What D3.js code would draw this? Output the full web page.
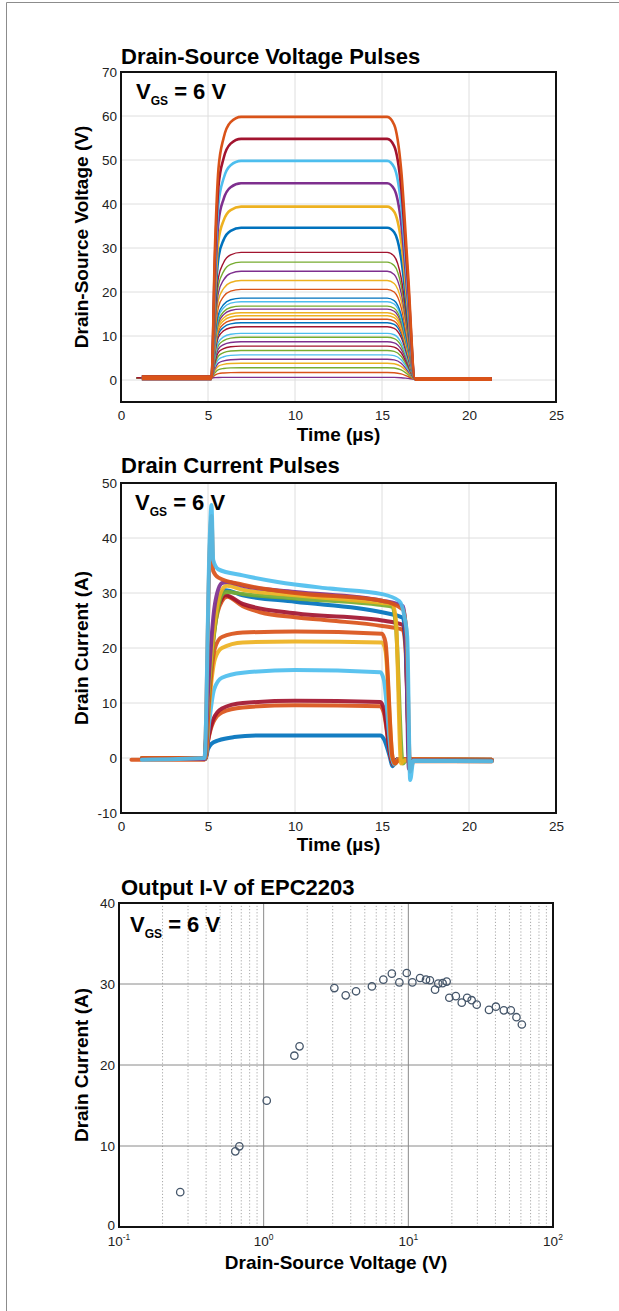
<!DOCTYPE html>
<html>
<head>
<meta charset="utf-8">
<script src="https://cdn.jsdelivr.net/npm/d3@7"></script>
<style>
  body { margin: 0; background: #fff; }
  text { font-family: "Liberation Sans", Arial, Helvetica, sans-serif; }
</style>
</head>
<body>
<svg id="fig"></svg>
<script>
// ---- data ----
// top panel: plateau level of every V_DS pulse (V), bottom trace first
var vdsLevels = [0.6, 1.7, 2.8, 3.8, 4.7, 5.7, 6.7, 7.7, 8.7, 9.7, 10.6, 12.1, 13.0, 13.8, 14.6, 15.3,
                 16.1, 16.8, 17.8, 18.6, 20.6, 22.6, 24.7, 26.8, 29.0, 34.6, 39.4, 44.7, 49.8, 54.8, 59.8];
// pulse outline (time in us, fraction of plateau)
var pulseTimes = [5.2, 5.4, 5.6, 5.9, 6.3, 6.9, 15.3, 15.7, 16.1, 16.5, 16.9];
var pulseShape = [0, 0.5, 0.8, 0.92, 0.98, 1, 1, 0.97, 0.8, 0.4, 0];
var vdsPre = [1.2, 0.5];     // start time, baseline level before the pulse
var vdsPost = [21.3, 0.2];   // end time, baseline level after the pulse

// middle panel: drain current traces [t (us), I (A)]
var idTraces = [
  [[1.2,-0.2],[4.85,-0.2],[5.0,1.6],[5.2,2.6],[5.6,3.2],[6.5,3.8],[8,4.1],[14.9,4.1],[15.1,3.5],[15.45,0.2],[15.6,-1.5],[15.85,-0.3],[21.3,-0.4]],
  [[1.2,-0.1],[4.85,-0.1],[5.0,3],[5.3,6.5],[5.8,8.3],[7,9.2],[10,9.6],[14.9,9.4],[15.1,8.3],[15.5,0.2],[15.65,-1.2],[15.9,-0.2],[21.3,-0.3]],
  [[1.2,-0.1],[4.85,-0.1],[5.0,3.2],[5.3,7],[5.8,9],[7,10],[10,10.4],[14.9,10.2],[15.1,9],[15.5,0.2],[15.65,-1.2],[15.9,-0.2],[21.3,-0.3]],
  [[1.2,0],[4.85,0],[5.05,6],[5.35,12.5],[5.8,14.6],[7,15.5],[10,16],[14.9,15.6],[15.1,14.3],[15.55,0.2],[15.7,-1.2],[15.95,-0.2],[21.3,-0.3]],
  [[1.2,0],[4.85,0],[5.05,9],[5.4,18],[5.8,20],[7,21],[10,21.2],[15,21],[15.2,19.5],[15.6,0.2],[15.75,-1],[16,-0.2],[21.3,-0.3]],
  [[1.2,0],[4.85,0],[5.05,10],[5.4,20],[5.8,22],[7,22.8],[10,23],[15,22.6],[15.2,21],[15.6,0.2],[15.75,-1],[16,-0.2],[21.3,-0.3]],
  [[0.6,-0.3],[4.8,-0.3],[5.0,10],[5.4,24],[5.8,28.5],[6.1,29.3],[7,27.6],[8,26.5],[10,25.6],[12,25],[15,24],[16.2,23.3],[16.35,20],[16.6,-1],[16.8,-0.6],[21.3,-0.6]],
  [[1.2,-0.2],[4.8,-0.2],[5.0,11],[5.4,25],[5.8,29],[6.0,29.6],[7,28],[10,26.3],[15,25],[16.2,24.2],[16.35,21],[16.6,-1.5],[16.8,-0.4],[21.3,-0.5]],
  [[1.2,-0.2],[4.8,-0.2],[5.0,12],[5.4,26],[5.8,30],[6.0,30.5],[7,29.6],[10,28.4],[15,26.5],[16.2,25.5],[16.35,22],[16.6,-1.5],[16.8,-0.4],[21.3,-0.5]],
  [[1.2,-0.2],[4.8,-0.2],[5.0,10],[5.5,26],[5.9,30],[6.1,30.2],[7,29.8],[10,29],[15,27.8],[15.6,27.5],[15.8,24],[16.2,-1],[16.4,-0.4],[21.3,-0.5]],
  [[1.2,-0.2],[4.8,-0.2],[5.0,11],[5.5,27],[5.9,31],[6.1,31.3],[7,30.6],[10,29.6],[15,28.2],[15.6,28],[15.8,25],[16.1,-1],[16.3,-0.4],[21.3,-0.5]],
  [[1.2,-0.2],[4.8,-0.2],[5.0,12],[5.4,28],[5.8,31.8],[6.1,32],[7,31.3],[10,30.2],[15,28.6],[16.2,27.6],[16.35,24],[16.55,-2],[16.75,-0.4],[21.3,-0.5]],
  [[1.2,-0.2],[4.8,0],[5.1,38],[5.2,44],[5.3,34],[5.6,32.8],[7,31.5],[10,30],[15,28.6],[16.2,27],[16.4,23],[16.62,-2.5],[16.8,-0.5],[21.3,-0.6]],
  [[1.2,-0.3],[4.8,0],[5.1,40],[5.2,46],[5.3,36],[5.6,34.3],[7,33.2],[9,32],[12,30.8],[15,29.8],[16,28.5],[16.3,25.5],[16.45,22],[16.62,-4],[16.8,-0.5],[21.3,-0.6]]
];

// bottom panel: output I-V points
var ivVds = [0.265, 0.637, 0.679, 1.05, 1.63, 1.77, 3.08, 3.69, 4.35, 5.6, 6.72, 7.69, 8.67, 9.75, 10.66,
             12.05, 13.25, 14.1, 15.3, 16.1, 17.26, 18.4, 19.2, 21.3, 23.4, 25.5, 27.4, 29.7, 36.1, 40.3,
             45.7, 51.1, 55.9, 60.9];
var ivId = [4.3, 9.34, 9.96, 15.6, 21.15, 22.3, 29.5, 28.6, 29.1, 29.7, 30.54, 31.28, 30.2, 31.36, 30.2,
            30.74, 30.54, 30.46, 29.3, 30.05, 30.1, 30.3, 28.3, 28.5, 27.7, 28.3, 28.0, 27.45, 26.8, 27.2,
            26.75, 26.75, 25.9, 25.0];

var timeTicks = [0, 5, 10, 15, 20, 25];
var vdsTicks = [0, 10, 20, 30, 40, 50, 60, 70];
var idTicks = [-10, 0, 10, 20, 30, 40, 50];
var ivTicks = [0, 10, 20, 30, 40];
var ivDecades = [-1, 0, 1, 2];

// ---- colours ----
var C = { blue: "#0072BD", orange: "#D95319", yellow: "#EDB120", purple: "#7E2F8E",
          green: "#77AC30", cyan: "#4DBEEE", dred: "#A2142F" };
var vdsColors = [C.purple, C.orange, C.green, C.yellow, C.purple, C.cyan, C.green, C.dred, C.purple, C.green,
                 C.cyan, C.dred, C.blue, C.orange, C.yellow, C.yellow, C.purple, C.green, C.cyan, C.blue,
                 C.orange, C.yellow, C.purple, C.green, C.dred, C.blue, C.yellow, C.purple, C.cyan, C.dred, C.orange];
var idColors = [C.blue, C.orange, C.dred, C.cyan, C.yellow, C.orange, C.orange, C.dred, C.blue, C.green,
                C.yellow, C.purple, C.orange, C.cyan];

var W = 619, H = 1311;
var svg = d3.select("#fig").attr("width", W).attr("height", H);

// outer frame (left and top edges only)
svg.append("path").attr("d", "M6.5,1311V2.5H619").attr("fill", "none").attr("stroke", "#8c8c8c").attr("stroke-width", 1);

function title(txt, x, y) {
  svg.append("text").attr("x", x).attr("y", y).attr("font-size", 22).attr("font-weight", "bold").text(txt);
}
function vgs(x, y) {
  var t = svg.append("text").attr("x", x).attr("y", y).attr("font-weight", "bold").attr("font-size", 22);
  t.append("tspan").text("V");
  t.append("tspan").attr("font-size", 12).attr("dy", 6).text("GS");
  t.append("tspan").attr("dy", -6).text(" = 6 V");
}
function ylabel(txt, x, y) {
  svg.append("text").attr("transform", "translate(" + x + "," + y + ") rotate(-90)")
    .attr("text-anchor", "middle").attr("font-size", 19).attr("font-weight", "bold").text(txt);
}
function xlabel(txt, x, y) {
  svg.append("text").attr("x", x).attr("y", y).attr("text-anchor", "middle")
    .attr("font-size", 19).attr("font-weight", "bold").text(txt);
}
function styleAxis(g) {
  g.select(".domain").remove();
  g.selectAll("text").attr("font-size", 13.5).attr("fill", "#222")
    .style("font-family", '"Liberation Sans", Arial, sans-serif');
}
function box(x, y) {
  svg.append("rect").attr("x", x.range()[0]).attr("y", y.range()[1])
    .attr("width", x.range()[1] - x.range()[0]).attr("height", y.range()[0] - y.range()[1])
    .attr("fill", "none").attr("stroke", "#111").attr("stroke-width", 2);
}
function clip(id, x, y) {
  svg.append("clipPath").attr("id", id).append("rect")
    .attr("x", x.range()[0]).attr("y", y.range()[1])
    .attr("width", x.range()[1] - x.range()[0]).attr("height", y.range()[0] - y.range()[1]);
}
function linGrid(x, y, xt, yt) {
  var g = svg.append("g").attr("stroke", "#dedede").attr("stroke-width", 1);
  g.selectAll(".gx").data(xt).enter().append("line")
    .attr("x1", d => x(d)).attr("x2", d => x(d)).attr("y1", y.range()[0]).attr("y2", y.range()[1]);
  g.selectAll(".gy").data(yt).enter().append("line")
    .attr("y1", d => y(d)).attr("y2", d => y(d)).attr("x1", x.range()[0]).attr("x2", x.range()[1]);
}
var plain = d => String(d);

// ================= panel 1: drain-source voltage pulses =================
var x1 = d3.scaleLinear().domain([0, 25]).range([121, 556]);
var y1 = d3.scaleLinear().domain([-5, 70]).range([402, 72]);
linGrid(x1, y1, timeTicks, vdsTicks);
clip("c1", x1, y1);

var vLine = d3.line().x(d => x1(d[0])).y(d => y1(d[1])).curve(d3.curveMonotoneX);
var g1 = svg.append("g").attr("clip-path", "url(#c1)").attr("fill", "none").attr("stroke-linejoin", "round");
vdsLevels.forEach(function (lv, i) {
  var noisy = lv > 30;
  var pts = [[noisy ? vdsPre[0] : 0.9, vdsPre[1]]];
  pulseTimes.forEach(function (t, k) {
    var base = k < 6 ? vdsPre[1] : vdsPost[1];
    pts.push([t, base + pulseShape[k] * (lv - base)]);
  });
  pts.push([vdsPost[0], vdsPost[1]]);
  g1.append("path").datum(pts).attr("d", vLine).attr("stroke", vdsColors[i])
    .attr("stroke-width", noisy ? 2.6 : 1.4);
  if (noisy) {
    g1.append("path").datum([[vdsPre[0], vdsPre[1]], [pulseTimes[0], vdsPre[1]]]).attr("d", vLine)
      .attr("stroke", vdsColors[i]).attr("stroke-width", 5);
    g1.append("path").datum([[pulseTimes[pulseTimes.length - 1], vdsPost[1]], [vdsPost[0], vdsPost[1]]]).attr("d", vLine)
      .attr("stroke", vdsColors[i]).attr("stroke-width", 4);
  }
});
box(x1, y1);
svg.append("g").attr("transform", "translate(0,402)")
  .call(d3.axisBottom(x1).tickValues(timeTicks).tickFormat(plain).tickSize(0).tickPadding(8)).call(styleAxis);
svg.append("g").attr("transform", "translate(121,0)")
  .call(d3.axisLeft(y1).tickValues(vdsTicks).tickFormat(plain).tickSize(0).tickPadding(4)).call(styleAxis);
title("Drain-Source Voltage Pulses", 121, 64);
vgs(136, 99);
ylabel("Drain-Source Voltage (V)", 88, 237);
xlabel("Time (µs)", 338.5, 441);

// ================= panel 2: drain current pulses =================
var x2 = d3.scaleLinear().domain([0, 25]).range([121, 556]);
var y2 = d3.scaleLinear().domain([-10, 50]).range([813, 483]);
linGrid(x2, y2, timeTicks, idTicks);
clip("c2", x2, y2);
var iLine = d3.line().x(d => x2(d[0])).y(d => y2(d[1])).curve(d3.curveMonotoneX);
var g2 = svg.append("g").attr("clip-path", "url(#c2)").attr("fill", "none")
  .attr("stroke-linejoin", "round").attr("stroke-linecap", "round");
idTraces.forEach(function (pts, i) {
  g2.append("path").datum(pts).attr("d", iLine).attr("stroke", idColors[i])
    .attr("stroke-width", 4).attr("stroke-opacity", 0.92);
});
box(x2, y2);
svg.append("g").attr("transform", "translate(0,813)")
  .call(d3.axisBottom(x2).tickValues(timeTicks).tickFormat(plain).tickSize(0).tickPadding(8)).call(styleAxis);
svg.append("g").attr("transform", "translate(121,0)")
  .call(d3.axisLeft(y2).tickValues(idTicks).tickFormat(plain).tickSize(0).tickPadding(4)).call(styleAxis);
title("Drain Current Pulses", 121, 473);
vgs(135, 510);
ylabel("Drain Current (A)", 88, 648);
xlabel("Time (µs)", 338.5, 851);

// ================= panel 3: output I-V =================
var x3 = d3.scaleLog().domain([0.1, 100]).range([119, 553]);
var y3 = d3.scaleLinear().domain([0, 40]).range([1227, 903]);
var minor = [];
ivDecades.slice(0, 3).forEach(function (e) {
  for (var m = 2; m <= 9; m++) minor.push(m * Math.pow(10, e));
});
svg.append("g").selectAll("line").data(minor).enter().append("line")
  .attr("x1", d => x3(d)).attr("x2", d => x3(d)).attr("y1", 1227).attr("y2", 903)
  .attr("stroke", "#a8a8a8").attr("stroke-width", 1).attr("stroke-dasharray", "1.2,2");
svg.append("g").selectAll("line").data([1, 10]).enter().append("line")
  .attr("x1", d => x3(d)).attr("x2", d => x3(d)).attr("y1", 1227).attr("y2", 903)
  .attr("stroke", "#8a8a8a").attr("stroke-width", 1);
svg.append("g").selectAll("line").data([10, 20, 30]).enter().append("line")
  .attr("y1", d => y3(d)).attr("y2", d => y3(d)).attr("x1", 119).attr("x2", 553)
  .attr("stroke", "#8a8a8a").attr("stroke-width", 1);

svg.append("g").selectAll("circle").data(ivVds).enter().append("circle")
  .attr("cx", d => x3(d)).attr("cy", (d, i) => y3(ivId[i])).attr("r", 3.7)
  .attr("fill", "none").attr("stroke", "#45566a").attr("stroke-width", 1.3);

box(x3, y3);
var ya3 = svg.append("g").attr("transform", "translate(119,0)")
  .call(d3.axisLeft(y3).tickValues(ivTicks).tickFormat(plain).tickSize(0).tickPadding(4)).call(styleAxis);
ya3.selectAll("text").filter(d => d === 0).attr("dy", "0.15em");
var xt = svg.append("g").selectAll("text").data(ivDecades).enter().append("text")
  .attr("x", d => x3(Math.pow(10, d))).attr("y", 1246).attr("text-anchor", "middle")
  .attr("font-size", 13.5).attr("fill", "#222");
xt.append("tspan").text("10");
xt.append("tspan").attr("dy", -6).attr("font-size", 8.5).text(plain);

title("Output I-V of EPC2203", 121, 895);
vgs(130, 932);
ylabel("Drain Current (A)", 88, 1065);
xlabel("Drain-Source Voltage (V)", 336, 1269);
</script>
</body>
</html>
